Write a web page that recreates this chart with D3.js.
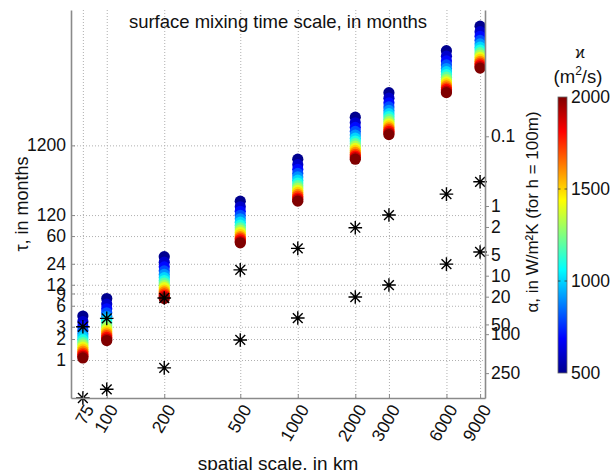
<!DOCTYPE html>
<html>
<head>
<meta charset="utf-8">
<script src="https://cdn.jsdelivr.net/npm/d3@7"></script>
<style>
  body { margin: 0; background: #fff; }
  svg { display: block; font-family: "Liberation Sans", Arial, sans-serif; }
</style>
</head>
<body>
<div id="container"></div>
<script>
// spatial scales (km) and diffusivities (m^2/s)
const scalesKm = [75, 100, 200, 500, 1000, 2000, 3000, 6000, 9000];
const kappa = [500, 600, 700, 800, 900, 1000, 1100, 1200, 1300, 1400, 1500, 1600, 1700, 1800, 1900, 2000];

// mixing time (months), one row per spatial scale, one value per kappa
const tauTable = [
  [4.28, 3.56, 3.06, 2.67, 2.38, 2.14, 1.94, 1.78, 1.65, 1.53, 1.43, 1.34, 1.26, 1.19, 1.13, 1.07],
  [7.61, 6.34, 5.43, 4.75, 4.23, 3.8, 3.46, 3.17, 2.93, 2.72, 2.54, 2.38, 2.24, 2.11, 2.0, 1.9],
  [30.4, 25.3, 21.7, 19.0, 16.9, 15.2, 13.8, 12.7, 11.7, 10.9, 10.1, 9.5, 8.9, 8.4, 8.0, 7.6],
  [190, 158, 136, 119, 106, 95, 86, 79, 73, 68, 63, 59, 56, 53, 50, 48],
  [760, 634, 543, 475, 423, 380, 346, 317, 293, 272, 254, 238, 224, 211, 200, 190],
  [3042, 2535, 2173, 1901, 1690, 1521, 1383, 1268, 1170, 1086, 1014, 951, 895, 845, 800, 760],
  [6844, 5703, 4889, 4278, 3802, 3422, 3111, 2852, 2632, 2444, 2282, 2139, 2013, 1901, 1801, 1711],
  [27376, 22814, 19555, 17110, 15209, 13688, 12444, 11407, 10529, 9777, 9125, 8555, 8051, 7604, 7204, 6844],
  [61600, 51330, 44000, 38500, 34220, 30800, 28000, 25670, 23690, 22000, 20530, 19250, 18120, 17110, 16210, 15400]
];

// asterisks (months)
const starsUpper = [3.0, 3.95, 7.75, 19.6, 40, 79, 120, 240, 360];
const starsLower = [0.285, 0.38, 0.77, 1.94, 4.0, 8.0, 11.9, 23.7, 35.5];

const leftTicks = [1, 2, 3, 6, 9, 12, 24, 60, 120, 1200];
const rightTicks = [0.1, 1, 2, 5, 10, 20, 50, 69, 250];
const rightTickLabels = ["0.1", "1", "2", "5", "10", "20", "50", "100", "250"];
const colorTicks = [500, 1000, 1500, 2000];
const colorMarks = [1000, 1500];

const W = 614, H = 470;
const L = 71, R = 485, T = 10, B = 398;
const axisGray = "#8a8a8a";
const gridGray = "#b0b0b0";

const setAttrs = (el, attrs) =>
  Object.entries(attrs).reduce((acc, [key, val]) => acc.attr(key, val), el);

const x = d3.scaleLog().domain([65, 9550]).range([L, R]);
const y = d3.scaleLog().domain([0.285, 105000]).range([B, T]);
const K = 162; // tau (months) at alpha = 1
const yAlpha = d3.scaleLog().domain([K / 0.285, K / 105000]).range([B, T]);

const jet = d3.scaleLinear()
  .domain([500, 687.5, 1062.5, 1437.5, 1812.5, 2000])
  .range(["#00008f", "#0000ff", "#00ffff", "#ffff00", "#ff0000", "#800000"]);

const svg = d3.select("#container").append("svg");
setAttrs(svg, { width: W, height: H, viewBox: `0 0 ${W} ${H}` });
svg.append("rect").attr("width", W).attr("height", H).attr("fill", "#fff");

// grid
const gridX = svg.append("g").attr("transform", `translate(0,${B})`)
  .call(d3.axisBottom(x).tickValues(scalesKm).tickSize(-(B - T)).tickFormat(""));
gridX.select(".domain").remove();
gridX.selectAll("line").attr("stroke", gridGray).attr("stroke-dasharray", "1,2");

const gridY = svg.append("g").attr("transform", `translate(${L},0)`)
  .call(d3.axisLeft(y).tickValues(leftTicks).tickSize(-(R - L)).tickFormat(""));
gridY.select(".domain").remove();
gridY.selectAll("line").attr("stroke", gridGray).attr("stroke-dasharray", "1,2");

// title
setAttrs(svg.append("text"), {
  x: 278, y: 28, "text-anchor": "middle", "font-size": 18.5, fill: "#111"
}).text("surface mixing time scale, in months");

// colored circles
const cols = svg.append("g");
scalesKm.forEach((s, i) => {
  cols.append("g").selectAll("circle")
    .data(kappa.map((k, j) => ({ k, tau: tauTable[i][j] })))
    .join("circle")
    .attr("cx", x(s))
    .attr("cy", (d) => y(d.tau))
    .attr("r", 5.6)
    .attr("fill", (d) => jet(d.k));
});

// asterisks
const star = (r) => {
  const q = r * 0.72;
  return `M0,${-r}V${r}M${-r},0H${r}M${-q},${-q}L${q},${q}M${-q},${q}L${q},${-q}`;
};
const stars = svg.append("g").attr("stroke", "#000").attr("stroke-width", 1.4).attr("fill", "none");
[starsUpper, starsLower].forEach((arr) => {
  stars.append("g").selectAll("path")
    .data(scalesKm.map((s, i) => [s, arr[i]]))
    .join("path")
    .attr("transform", ([s, t]) => `translate(${x(s)},${y(t)})`)
    .attr("d", star(6.8));
});

// axes
const axisFont = 17.5;
const styleAxis = (g) => {
  g.select(".domain").attr("stroke", axisGray).attr("stroke-width", 1.6);
  g.selectAll(".tick line").attr("stroke", axisGray);
  g.selectAll("text").attr("font-size", axisFont).attr("fill", "#111")
    .attr("font-family", "Liberation Sans, Arial, sans-serif");
};

const xAxis = svg.append("g").attr("transform", `translate(0,${B})`)
  .call(d3.axisBottom(x).tickValues(scalesKm).tickFormat((d) => d).tickSizeInner(-4).tickSizeOuter(0))
  .call(styleAxis);
xAxis.selectAll("text")
  .attr("y", 0).attr("dy", "0.35em")
  .attr("text-anchor", "end")
  .attr("transform", "translate(6,8) rotate(-60)");

const yAxis = svg.append("g").attr("transform", `translate(${L},0)`)
  .call(d3.axisLeft(y).tickValues(leftTicks).tickFormat((d) => d).tickSizeInner(-4).tickSizeOuter(0).tickPadding(5))
  .call(styleAxis);

const rAxis = svg.append("g").attr("transform", `translate(${R},0)`)
  .call(d3.axisRight(yAlpha).tickValues(rightTicks).tickFormat((d, i) => rightTickLabels[i]).tickSize(4).tickSizeOuter(0).tickPadding(2))
  .call(styleAxis);

// axis titles
setAttrs(svg.append("text"), {
  transform: "translate(28,204) rotate(-90)", "text-anchor": "middle", "font-size": 18, fill: "#111"
}).text("τ, in months");

setAttrs(svg.append("text"), {
  transform: "translate(538,212) rotate(-90)", "text-anchor": "middle", "font-size": 17, fill: "#111"
}).text("α, in W/m²K  (for h = 100m)");

setAttrs(svg.append("text"), {
  x: 278, y: 470, "text-anchor": "middle", "font-size": 19, fill: "#111"
}).text("spatial scale, in km");

// colorbar
const cb = d3.scaleLinear().domain([500, 2000]).range([373, 97]);
const cbX = 558, cbW = 9;
const grad = svg.append("defs").append("linearGradient")
  .attr("id", "jetGrad").attr("x1", 0).attr("y1", 1).attr("x2", 0).attr("y2", 0);
grad.selectAll("stop")
  .data(jet.domain())
  .join("stop")
  .attr("offset", (d) => (d - 500) / 1500)
  .attr("stop-color", (d) => jet(d));
setAttrs(svg.append("rect"), {
  x: cbX, y: cb(2000), width: cbW, height: cb(500) - cb(2000),
  fill: "url(#jetGrad)", stroke: "#666", "stroke-width": 0.8
});
const cbMarks = svg.append("g").attr("stroke", "#333").attr("stroke-width", 0.8);
colorMarks.forEach((v) => {
  cbMarks.append("line").attr("x1", cbX).attr("x2", cbX + 2.5).attr("y1", cb(v)).attr("y2", cb(v));
  cbMarks.append("line").attr("x1", cbX + cbW - 2.5).attr("x2", cbX + cbW).attr("y1", cb(v)).attr("y2", cb(v));
});
const cbAxis = svg.append("g").attr("transform", `translate(${cbX + cbW},0)`)
  .call(d3.axisRight(cb).tickValues(colorTicks).tickFormat((d) => d).tickSize(0).tickPadding(4))
  .call(styleAxis);
cbAxis.select(".domain").remove();

setAttrs(svg.append("text"), {
  x: 580, y: 58, "text-anchor": "middle", "font-size": 16, fill: "#111"
}).text("ϰ");
const unit = setAttrs(svg.append("text"), {
  x: 578, y: 83, "text-anchor": "middle", "font-size": 18.5, fill: "#111"
});
unit.append("tspan").text("(m");
unit.append("tspan").attr("font-size", 12).attr("dy", -8).text("2");
unit.append("tspan").attr("dy", 8).text("/s)");
</script>
</body>
</html>
